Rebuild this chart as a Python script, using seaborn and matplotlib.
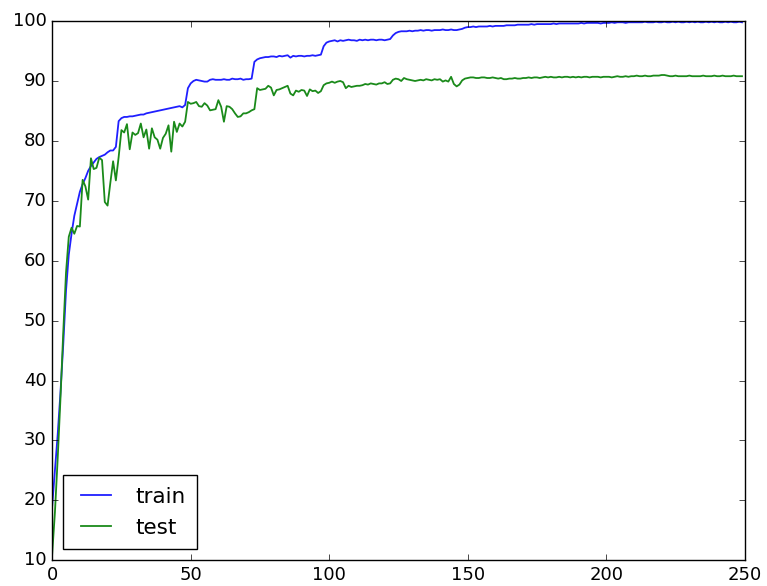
import matplotlib
matplotlib.use("Agg")
import matplotlib.pyplot as plt
import seaborn as sns
import pandas as pd

train = [
    19.0, 25.0, 31.0, 38.0, 46.0, 55.0, 61.0, 64.5, 67.5, 69.5,
    71.5, 72.8, 73.8, 75.0, 75.8, 76.4, 77.0, 77.3, 77.5, 77.7,
    78.1, 78.4, 78.4, 79.0, 83.3, 83.8, 84.0, 84.0, 84.1, 84.1,
    84.2, 84.3, 84.4, 84.4, 84.6, 84.7, 84.8, 84.9, 85.0, 85.1,
    85.2, 85.3, 85.4, 85.5, 85.6, 85.7, 85.8, 85.6, 86.0, 88.8,
    89.6, 90.0, 90.2, 90.1, 90.0, 89.9, 89.9, 90.2, 90.3, 90.2,
    90.2, 90.2, 90.3, 90.2, 90.2, 90.4, 90.3, 90.3, 90.4, 90.2,
    90.3, 90.3, 90.4, 93.2, 93.6, 93.8, 93.9, 94.0, 94.0, 94.1,
    94.1, 94.0, 94.2, 94.1, 94.2, 94.3, 93.9, 94.2, 94.1, 94.2,
    94.2, 94.1, 94.2, 94.2, 94.3, 94.2, 94.3, 94.4, 95.8, 96.4,
    96.6, 96.7, 96.8, 96.6, 96.8, 96.7, 96.8, 96.9, 96.8, 96.8,
    96.7, 96.9, 96.8, 96.9, 96.8, 96.9, 96.9, 96.8, 96.9, 96.9,
    96.8, 96.9, 97.0, 97.6, 98.0, 98.2, 98.3, 98.3, 98.3, 98.4,
    98.3, 98.4, 98.4, 98.5, 98.4, 98.5, 98.5, 98.4, 98.5, 98.5,
    98.5, 98.6, 98.5, 98.5, 98.6, 98.5, 98.5, 98.6, 98.7, 98.9,
    99.0, 99.0, 99.1, 99.0, 99.1, 99.1, 99.1, 99.1, 99.2, 99.1,
    99.2, 99.2, 99.2, 99.2, 99.3, 99.3, 99.3, 99.3, 99.4, 99.4,
    99.4, 99.4, 99.4, 99.5, 99.4, 99.5, 99.5, 99.5, 99.5, 99.5,
    99.5, 99.6, 99.5, 99.6, 99.6, 99.6, 99.6, 99.6, 99.6, 99.6,
    99.6, 99.7, 99.6, 99.7, 99.7, 99.7, 99.7, 99.7, 99.6, 99.7,
    99.7, 99.7, 99.8, 99.7, 99.8, 99.8, 99.8, 99.7, 99.8, 99.8,
    99.8, 99.8, 99.8, 99.8, 99.9, 99.8, 99.8, 99.8, 99.9, 99.8,
    99.8, 99.9, 99.8, 99.8, 99.9, 99.8, 99.9, 99.8, 99.8, 99.9,
    99.8, 99.9, 99.8, 99.9, 99.8, 99.8, 99.9, 99.8, 99.9, 99.8,
    99.9, 99.8, 99.8, 99.9, 99.8, 99.9, 99.8, 99.8, 99.9, 99.8,
]

test = [
    11.0, 18.0, 27.0, 37.0, 48.0, 58.0, 64.0, 65.5, 64.5, 65.8,
    65.7, 73.5, 72.4, 70.2, 77.1, 75.3, 75.5, 77.2, 76.8, 69.8,
    69.2, 73.0, 76.6, 73.4, 77.3, 81.8, 81.4, 82.8, 78.6, 81.4,
    81.0, 81.3, 82.9, 80.6, 81.9, 78.7, 82.1, 80.6, 80.2, 78.7,
    80.5, 81.2, 82.6, 78.2, 83.2, 81.5, 82.9, 82.4, 83.2, 86.5,
    86.2, 86.3, 86.5, 85.8, 85.7, 86.3, 85.9, 85.1, 85.2, 85.3,
    86.8, 85.7, 83.2, 85.8, 85.7, 85.3, 84.6, 84.0, 84.1, 84.6,
    84.6, 84.8, 85.1, 85.3, 88.8, 88.5, 88.6, 88.7, 89.2, 88.9,
    87.6, 88.5, 88.6, 88.8, 89.0, 89.2, 87.9, 87.6, 88.4, 88.2,
    88.5, 88.4, 87.5, 88.6, 88.3, 88.4, 88.0, 88.3, 89.3, 89.6,
    89.7, 89.9, 89.7, 89.9, 90.0, 89.8, 88.8, 89.2, 89.0, 89.1,
    89.2, 89.2, 89.3, 89.5, 89.4, 89.6, 89.5, 89.4, 89.6, 89.6,
    89.8, 89.5, 89.6, 90.2, 90.4, 90.3, 90.0, 90.5, 90.3, 90.2,
    90.1, 90.0, 90.1, 90.2, 90.1, 90.3, 90.2, 90.1, 90.3, 90.2,
    90.3, 89.9, 90.1, 89.9, 90.7, 89.5, 89.1, 89.4, 90.1, 90.4,
    90.5, 90.6, 90.6, 90.5, 90.5, 90.6, 90.6, 90.5, 90.5, 90.6,
    90.5, 90.4, 90.5, 90.3, 90.3, 90.4, 90.4, 90.5, 90.4, 90.4,
    90.5, 90.5, 90.6, 90.5, 90.6, 90.6, 90.5, 90.6, 90.7, 90.6,
    90.7, 90.6, 90.6, 90.7, 90.6, 90.7, 90.7, 90.6, 90.7, 90.6,
    90.7, 90.6, 90.7, 90.7, 90.6, 90.7, 90.7, 90.7, 90.6, 90.7,
    90.7, 90.7, 90.6, 90.7, 90.8, 90.7, 90.7, 90.8, 90.7, 90.8,
    90.8, 90.9, 90.8, 90.8, 90.9, 90.8, 90.8, 90.9, 90.9, 90.9,
    91.0, 91.0, 90.9, 90.8, 90.8, 90.9, 90.8, 90.8, 90.8, 90.8,
    90.9, 90.8, 90.8, 90.8, 90.8, 90.9, 90.8, 90.8, 90.8, 90.9,
    90.8, 90.8, 90.9, 90.8, 90.8, 90.8, 90.9, 90.8, 90.8, 90.8,
]

series_names = ["train", "test"]
series_colors = ["#1f1fff", "#1a8a1a"]
x_ticks = [0, 50, 100, 150, 200, 250]
y_ticks = [10, 20, 30, 40, 50, 60, 70, 80, 90, 100]

plt.style.use("classic")
plt.rcParams["figure.facecolor"] = "white"
plt.rcParams["savefig.facecolor"] = "white"

df = pd.DataFrame({
    "epoch": list(range(len(train))) + list(range(len(test))),
    "acc": train + test,
    "series": ["train"] * len(train) + ["test"] * len(test),
})

fig = plt.figure(figsize=(7.67, 5.86), dpi=100)
ax = fig.add_axes([0.068, 0.044, 0.903, 0.920])
sns.lineplot(data=df, x="epoch", y="acc", hue="series",
             hue_order=series_names,
             palette=dict(zip(series_names, series_colors)),
             linewidth=1.3, ax=ax, legend=True)

ax.set_xlim(0, 250)
ax.set_ylim(10, 100)
ax.set_xticks(x_ticks)
ax.set_yticks(y_ticks)
ax.set_xlabel("")
ax.set_ylabel("")
ax.tick_params(labelsize=13)

h, l = ax.get_legend_handles_labels()
ax.legend(h, l, loc="lower left", fontsize=15.5, frameon=True,
          borderpad=0.55, borderaxespad=0.5)

fig.savefig("out.png", dpi=100)
